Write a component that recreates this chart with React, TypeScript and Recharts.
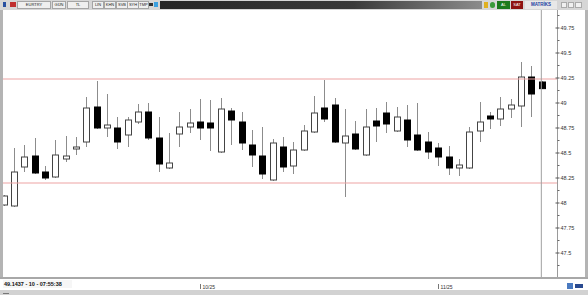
import React from 'react';
import { ComposedChart, Bar, XAxis, YAxis, ReferenceLine } from 'recharts';

// daily EUR/TRY candles
const dates = [
  '2025-09-04', '2025-09-05', '2025-09-08', '2025-09-09', '2025-09-10', '2025-09-11', '2025-09-12',
  '2025-09-15', '2025-09-16', '2025-09-17', '2025-09-18', '2025-09-19', '2025-09-22', '2025-09-23',
  '2025-09-24', '2025-09-25', '2025-09-26', '2025-09-29', '2025-09-30', '2025-10-01', '2025-10-02',
  '2025-10-03', '2025-10-06', '2025-10-07', '2025-10-08', '2025-10-09', '2025-10-10', '2025-10-13',
  '2025-10-14', '2025-10-15', '2025-10-16', '2025-10-17', '2025-10-20', '2025-10-21', '2025-10-22',
  '2025-10-23', '2025-10-24', '2025-10-27', '2025-10-28', '2025-10-29', '2025-10-30', '2025-10-31',
  '2025-11-03', '2025-11-04', '2025-11-05', '2025-11-06', '2025-11-07', '2025-11-10', '2025-11-11',
  '2025-11-12', '2025-11-13', '2025-11-14', '2025-11-17',
];

const opens = [
  47.98, 47.97, 48.36, 48.47, 48.31, 48.26, 48.44, 48.54, 48.61, 48.96, 48.75, 48.75, 48.68, 48.81,
  48.91, 48.65, 48.35, 48.69, 48.76, 48.81, 48.80, 48.51, 48.92, 48.81, 48.58, 48.47, 48.23, 48.56,
  48.37, 48.53, 48.71, 48.95, 48.98, 48.60, 48.69, 48.48, 48.82, 48.90, 48.72, 48.83, 48.68, 48.61,
  48.55, 48.46, 48.35, 48.35, 48.72, 48.87, 48.84, 48.94, 48.97, 49.26, 49.21,
];
const highs = [
  48.08, 48.55, 48.58, 48.65, 48.37, 48.63, 48.67, 48.66, 49.06, 49.22, 49.09, 48.86, 48.86, 48.99,
  49.00, 48.86, 48.70, 48.91, 48.94, 49.04, 49.03, 49.05, 48.95, 48.91, 48.73, 48.76, 48.64, 48.66,
  48.61, 48.78, 49.07, 49.23, 49.05, 48.94, 48.82, 48.94, 48.95, 49.01, 48.96, 48.98, 49.00, 48.71,
  48.60, 48.57, 48.44, 48.76, 49.01, 48.91, 49.06, 49.04, 49.41, 49.37, 49.22,
];
const lows = [
  47.97, 47.96, 48.31, 48.29, 48.23, 48.25, 48.41, 48.48, 48.56, 48.74, 48.66, 48.54, 48.56, 48.79,
  48.63, 48.31, 48.34, 48.56, 48.70, 48.63, 48.52, 48.50, 48.58, 48.53, 48.36, 48.24, 48.22, 48.31,
  48.29, 48.52, 48.70, 48.81, 48.60, 48.06, 48.53, 48.47, 48.61, 48.70, 48.71, 48.56, 48.52, 48.44,
  48.37, 48.28, 48.27, 48.34, 48.61, 48.74, 48.77, 48.85, 48.76, 48.86, 49.14,
];
const closes = [
  48.07, 48.31, 48.46, 48.30, 48.25, 48.48, 48.47, 48.56, 48.95, 48.75, 48.78, 48.61, 48.83, 48.91,
  48.65, 48.39, 48.40, 48.76, 48.80, 48.75, 48.75, 48.94, 48.83, 48.60, 48.48, 48.29, 48.60, 48.36,
  48.53, 48.72, 48.90, 48.84, 48.61, 48.67, 48.54, 48.76, 48.77, 48.79, 48.86, 48.63, 48.53, 48.51,
  48.46, 48.35, 48.38, 48.71, 48.81, 48.84, 48.94, 48.98, 49.26, 49.09, 49.1437,
];

const yTicks = [
  47.375, 47.5, 47.625, 47.75, 47.875, 48, 48.125, 48.25, 48.375, 48.5, 48.625, 48.75, 48.875,
  49, 49.125, 49.25, 49.375, 49.5, 49.625, 49.75, 49.875,
];
const yLabels = ['47.5', '47.75', '48', '48.25', '48.5', '48.75', '49', '49.25', '49.5', '49.75'];
const monthTicks = ['2025-10-01', '2025-11-03'];
const monthLabels = ['10/25', '11/25'];

const lastPrice = 49.1437;
const upperLevel = 49.24;
const lowerLevel = 48.2;

const data = dates.map((d, i) => ({
  date: d,
  open: opens[i],
  high: highs[i],
  low: lows[i],
  close: closes[i],
}));

const Candle = (props: any) => {
  const { x, y, width, height, payload } = props;
  const top = Math.min(y, y + height);
  const h = Math.abs(height);
  const span = payload.high - payload.low || 1;
  const py = (v: number) => top + ((payload.high - v) / span) * h;
  const cx = Math.round(x + width / 2) + 0.5;
  const up = payload.close >= payload.open;
  const bTop = py(Math.max(payload.open, payload.close));
  const bBot = py(Math.min(payload.open, payload.close));
  return (
    <g>
      <line x1={cx} x2={cx} y1={top} y2={top + h} stroke="#8c8c8c" strokeWidth={1} />
      <rect
        x={cx - 3}
        y={bTop}
        width={6}
        height={Math.max(bBot - bTop, 1)}
        fill={up ? '#ffffff' : '#000000'}
        stroke={up ? '#444' : '#000'}
        strokeWidth={1}
      />
    </g>
  );
};

const PriceTick = (props: any) => {
  const { x, y, payload } = props;
  const idx = yLabels.indexOf(String(payload.value));
  if (idx < 0) {
    return <line x1={x} x2={x + 2} y1={y} y2={y} stroke="#666" />;
  }
  return (
    <g>
      <line x1={x - 2} x2={x + 2} y1={y} y2={y} stroke="#555" />
      <text x={x + 3} y={y + 2} fontSize={5.5} fill="#333" fontFamily="Liberation Sans, Arial, sans-serif">
        {yLabels[idx]}
      </text>
    </g>
  );
};

const MonthTick = (props: any) => {
  const { x, y, payload } = props;
  const idx = monthTicks.indexOf(payload.value);
  if (idx < 0) return <g />;
  const px = Math.round(x) + 0.5;
  return (
    <g>
      <line x1={px} x2={px} y1={y + 5} y2={y + 10} stroke="#777" />
      <text x={px + 2} y={y + 9.5} fontSize={5} fill="#333" fontFamily="Liberation Sans, Arial, sans-serif">
        {monthLabels[idx]}
      </text>
    </g>
  );
};

const PriceMarker = (props: any) => {
  const { x2, y1 } = props;
  return <line x1={x2 - 16} x2={x2} y1={y1} y2={y1} stroke="#7fd8d8" strokeWidth={1} />;
};

const tbBox = (left: number, width: number, text: string) => (
  <div
    key={text + left}
    style={{
      position: 'absolute', left, top: 1, width, height: 6, background: '#efefef',
      border: '1px solid #a5a5a5', fontSize: 4, lineHeight: '6px', textAlign: 'center',
      color: '#222', fontFamily: 'Liberation Sans, Arial, sans-serif', overflow: 'hidden',
    }}
  >
    {text}
  </div>
);

function App() {
  return (
    <div style={{ position: 'fixed', left: 0, top: 0, width: 588, height: 295, overflow: 'hidden', background: '#fff' }}>
      {/* toolbar */}
      <div style={{ position: 'absolute', left: 0, top: 0, width: 588, height: 10, background: '#d6d6d6' }}>
        <div style={{ position: 'absolute', left: 3, top: 2, width: 3, height: 5, background: '#2850a0' }} />
        <div style={{ position: 'absolute', left: 10, top: 2, width: 6, height: 5, background: '#c03030' }} />
        {tbBox(17, 32, 'EURTRY')}
        {tbBox(52, 12, 'GÜN')}
        {tbBox(67, 20, 'TL')}
        {tbBox(92, 10, 'LIN')}
        {tbBox(104, 10, 'KHN')}
        {tbBox(116, 10, 'SVB')}
        {tbBox(127, 10, 'SYH')}
        {tbBox(138, 9, 'TMP')}
        <div style={{ position: 'absolute', left: 149, top: 3, width: 4, height: 3, background: '#333' }} />
        <div style={{ position: 'absolute', left: 154, top: 2, width: 4, height: 5, background: '#3aa0e0' }} />
        <div style={{ position: 'absolute', left: 160, top: 1, width: 322, height: 8, background: 'linear-gradient(to right, #262626, #3a3a3a 60%, #8c8c8c)' }} />
        <div style={{ position: 'absolute', left: 484, top: 2, width: 4, height: 6, background: '#e0b020' }} />
        <div style={{ position: 'absolute', left: 490, top: 2, width: 5, height: 6, borderRadius: 3, background: '#3a9a3a' }} />
        <div style={{ position: 'absolute', left: 497, top: 1, width: 13, height: 8, background: '#1c7a1c', color: '#fff', fontSize: 4, lineHeight: '8px', textAlign: 'center', fontFamily: 'Liberation Sans, Arial, sans-serif' }}>AL</div>
        <div style={{ position: 'absolute', left: 511, top: 1, width: 12, height: 8, background: '#8e1212', color: '#fff', fontSize: 4, lineHeight: '8px', textAlign: 'center', fontFamily: 'Liberation Sans, Arial, sans-serif' }}>SAT</div>
        <div style={{ position: 'absolute', left: 525, top: 1, width: 32, height: 8, background: '#e8e8e8', color: '#2040a0', fontSize: 4.5, fontWeight: 700, lineHeight: '8px', textAlign: 'center', fontFamily: 'Liberation Sans, Arial, sans-serif' }}>MATRİKS</div>
        <div style={{ position: 'absolute', left: 561, top: 2, width: 6, height: 6, background: '#f0f0f0', border: '1px solid #aaa', boxSizing: 'border-box' }} />
        <div style={{ position: 'absolute', left: 568, top: 2, width: 6, height: 6, background: '#f0f0f0', border: '1px solid #aaa', boxSizing: 'border-box' }} />
        <div style={{ position: 'absolute', left: 575, top: 2, width: 7, height: 6, background: '#f0f0f0', border: '1px solid #aaa', boxSizing: 'border-box' }} />
      </div>

      {/* chart */}
      <div style={{ position: 'absolute', left: -2.5, top: 10 }}>
        <ComposedChart width={587.5} height={280} data={data} margin={{ top: 0, right: 0, bottom: 0, left: 0 }}>
          <XAxis
            dataKey="date"
            type="category"
            height={13}
            padding={{ left: 0, right: 11 }}
            axisLine={false}
            tickLine={false}
            tickSize={0}
            interval={0}
            tick={<MonthTick />}
          />
          <YAxis
            orientation="right"
            type="number"
            width={28}
            domain={[47.26, 49.93]}
            allowDataOverflow
            ticks={yTicks}
            interval={0}
            tickLine={false}
            tickSize={0}
            tickMargin={0}
            axisLine={{ stroke: '#9a9a9a' }}
            tick={<PriceTick />}
          />
          <ReferenceLine y={upperLevel} stroke="#eda3a3" strokeWidth={1} />
          <ReferenceLine y={lowerLevel} stroke="#eda3a3" strokeWidth={1} />
          <ReferenceLine x={dates[dates.length - 1]} stroke="#a0a0a0" strokeWidth={1} />
          <ReferenceLine y={lastPrice} shape={<PriceMarker />} />
          <Bar
            dataKey={(d: any) => [d.low, d.high]}
            barSize={7}
            shape={<Candle />}
            isAnimationActive={false}
          />
        </ComposedChart>
      </div>

      {/* frame borders */}
      <div style={{ position: 'absolute', left: 0, top: 10, width: 3, height: 269, background: '#b4b4b4' }} />
      <div style={{ position: 'absolute', left: 585, top: 10, width: 3, height: 269, background: '#b4b4b4' }} />
      <div style={{ position: 'absolute', left: 0, top: 277, width: 588, height: 2, background: '#a8a8a8' }} />

      {/* status bar */}
      <div
        style={{
          position: 'absolute', left: 3, top: 280, width: 68, height: 8, background: '#f6f6f6',
          fontSize: 5.5, fontWeight: 700, lineHeight: '8px', color: '#111', paddingLeft: 1,
          fontFamily: 'Liberation Sans, Arial, sans-serif', whiteSpace: 'nowrap',
        }}
      >
        49.1437 - 10 - 07:55:38
      </div>
      <div style={{ position: 'absolute', left: 0, top: 290, width: 588, height: 5, background: '#d2d2d2' }} />
      <div style={{ position: 'absolute', left: 3, top: 290, width: 6, height: 4, borderBottom: '1px solid #777', boxSizing: 'border-box' }} />
      <div style={{ position: 'absolute', left: 567, top: 283, width: 6, height: 6, background: '#4a7ac0' }} />
      <div style={{ position: 'absolute', left: 575, top: 284, width: 8, height: 4, background: '#2a4a90' }} />
    </div>
  );
}

export default App;
